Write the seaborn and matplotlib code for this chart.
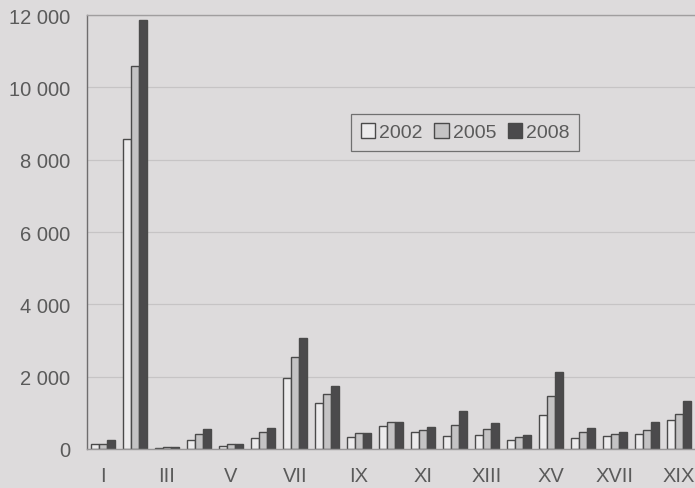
import matplotlib
matplotlib.use("Agg")
import matplotlib.pyplot as plt
import seaborn as sns
import pandas as pd
import numpy as np

categories = ["I", "II", "III", "IV", "V", "VI", "VII", "VIII", "IX", "X",
              "XI", "XII", "XIII", "XIV", "XV", "XVI", "XVII", "XVIII", "XIX"]
years = ["2002", "2005", "2008"]
values_2002 = [130, 8570, 15, 250, 80, 310, 1950, 1260, 320, 640,
               480, 350, 390, 250, 940, 300, 350, 400, 800]
values_2005 = [130, 10600, 50, 420, 130, 460, 2530, 1520, 430, 750,
               535, 670, 550, 320, 1470, 480, 415, 525, 965]
values_2008 = [240, 11860, 50, 540, 130, 590, 3080, 1750, 430, 750,
               600, 1040, 710, 395, 2140, 580, 460, 740, 1330]
tick_labels = ["I", "III", "V", "VII", "IX", "XI", "XIII", "XV", "XVII", "XIX"]

df = pd.DataFrame({
    "cat": categories * 3,
    "year": [y for y in years for _ in categories],
    "value": values_2002 + values_2005 + values_2008,
})

bg = "#dddbdc"
text_col = "#5a5a5a"
edge = "#4a4a4a"
palette = {"2002": "#ecebec", "2005": "#c4c3c4", "2008": "#4b4a4c"}

sns.set_style("white")
plt.rcParams["font.family"] = ["Liberation Sans", "DejaVu Sans"]

fig = plt.figure(figsize=(6.95, 4.89), dpi=100, facecolor=bg)
ax = fig.add_axes([0.125, 0.080, 0.875, 0.887])
ax.set_facecolor(bg)

sns.barplot(data=df, x="cat", y="value", hue="year", order=categories,
            hue_order=years, palette=palette, width=0.75, gap=0,
            edgecolor=edge, linewidth=1.0, ax=ax, legend=False)

ax.set_ylim(0, 12000)
ax.set_xlim(-0.5, len(categories) - 0.5)
yt = np.arange(0, 12001, 2000)
ax.set_yticks(yt)
ax.set_yticklabels([f"{v:,}".replace(",", " ") for v in yt])
ax.yaxis.grid(True, color="#c6c4c5", linewidth=0.9)
ax.set_axisbelow(True)

major = [i for i, c in enumerate(categories) if c in tick_labels]
ax.set_xticks(major)
ax.set_xticklabels(tick_labels)
ax.set_xticks(np.arange(-0.5, len(categories), 1), minor=True)
ax.tick_params(axis="x", which="major", length=0, pad=12, labelsize=14.5, labelcolor=text_col)
ax.tick_params(axis="x", which="minor", length=4, color="#999999", direction="out")
ax.tick_params(axis="y", length=4, color="#999999", direction="out", pad=8,
               labelsize=14.5, labelcolor=text_col)
ax.set_xlabel("")
ax.set_ylabel("")

for side in ["left", "bottom", "top"]:
    ax.spines[side].set_visible(True)
    ax.spines[side].set_color("#6f6d6e")
    ax.spines[side].set_linewidth(1.0)
ax.spines["top"].set_color("#a09e9f")
ax.spines["bottom"].set_color("#9a9899")
ax.spines["right"].set_visible(False)

handles = [plt.Rectangle((0, 0), 1, 1, facecolor=palette[y], edgecolor=edge, linewidth=1.0)
           for y in years]
leg = ax.legend(handles, years, ncol=3, loc="upper left", bbox_to_anchor=(0.418, 0.795),
                frameon=True, fancybox=False, edgecolor="#555555", facecolor=bg,
                fontsize=14, handlelength=0.75, handleheight=0.75, handletextpad=0.2,
                columnspacing=0.6, borderpad=0.5, labelcolor=text_col)
leg.get_frame().set_linewidth(0.9)

fig.savefig("out.png", dpi=100, facecolor=bg)
